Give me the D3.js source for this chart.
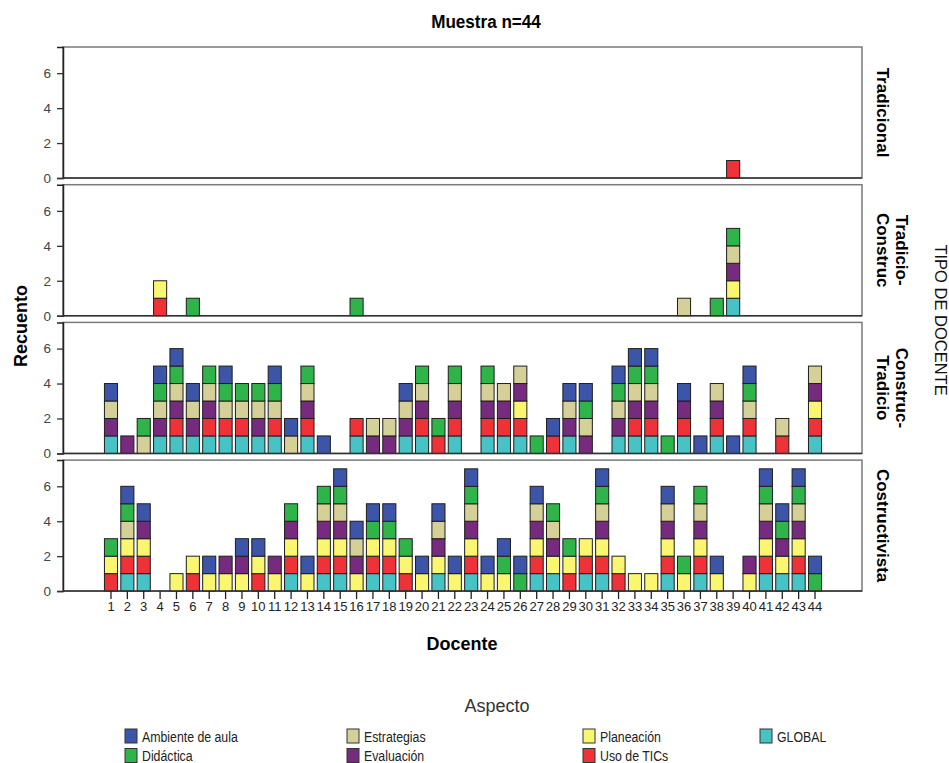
<!DOCTYPE html>
<html>
<head>
<meta charset="utf-8">
<script src="https://cdn.jsdelivr.net/npm/d3@7"></script>
<style>
  body { margin: 0; background: #fff; }
  text { font-family: "Liberation Sans", Arial, sans-serif; }
</style>
</head>
<body>
<svg id="drawing_region"></svg>
<script>
// docentes 1..44 on the x axis
const docentes = d3.range(1, 45).map(String);
const tickLabels = [0, 2, 4, 6];

// stack order from the bottom up
const aspectos = ["GLOBAL", "Uso de TICs", "Planeación", "Evaluación", "Estrategias", "Didáctica", "Ambiente de aula"];
const codigos = {G: "GLOBAL", T: "Uso de TICs", P: "Planeación", V: "Evaluación", E: "Estrategias", D: "Didáctica", A: "Ambiente de aula"};
const colores = ["#47c3c6", "#ee3237", "#fbf66f", "#762b7f", "#d5cf98", "#2fb44a", "#3c55a9"];
const legendOrder = ["Ambiente de aula", "Estrategias", "Planeación", "GLOBAL", "Didáctica", "Evaluación", "Uso de TICs"];

const tipos = ["Tradicional", "Tradicio-Construc", "Construc-Tradicio", "Costructivista"];
const tipoLines = [["Tradicional"], ["Tradicio-", "Construc"], ["Construc-", "Tradicio"], ["Costructivista"]];

// aspects counted (1 each) per docente, one string per docente, per tipo
const tradicional = ["","","","","","","","","","","","","","","","","","","","","","","","","","","","","","","","","","","","","","","T","","","","",""];
const tradicioConstruc = ["","","","TP","","D","","","","","","","","","","D","","","","","","","","","","","","","","","","","","","","E","","D","GPVED","","","","",""];
const construcTradicio = ["GVEA","V","ED","GVEDA","GTVEDA","GVEA","GTVED","GTEDA","GTED","GVED","GTEDA","EA","GTVED","A","","GT","VE","VE","GVEA","GTVED","TD","GTVED","","GTVED","GTVE","GTPVE","D","TA","GVEA","VEDA","","GVEDA","GTVEDA","GTVEDA","D","GTVA","A","GTVE","A","GTEDA","","TE","","GTPVE"];
const costructivista = ["TPD","GTPEDA","GTPVA","","P","TP","PA","PV","PVA","TPA","PV","GTPVD","PA","GTPVED","GTPVEDA","PVEA","GTPDA","GTPDA","TPD","PA","GPVEA","PA","GTPVEDA","PA","PDA","DA","GTPVEA","GPVED","TPD","GTP","GTPVEDA","TP","P","P","GTPVEA","PD","GTPVED","PA","","PV","GTPVEDA","GPVDA","GTPVEDA","DA"];
const paneles = [tradicional, tradicioConstruc, construcTradicio, costructivista];

const W = 949, H = 763;
const left = 63, right = 862;
const panelTop = 47, panelH = 131, panelStep = 137.7;

const svg = d3.select('#drawing_region').attr('width', W).attr('height', H);

const x = d3.scaleBand().domain(docentes).range([102.8, 823.2]).paddingInner(0.2).paddingOuter(0.1);
const y = d3.scaleLinear().domain([0, 7.5]).range([panelH, 0]);
const color = d3.scaleOrdinal().domain(aspectos).range(colores);
const stack = d3.stack().keys(aspectos);

// narrow-looking title (squeezed horizontally)
svg.append('text')
  .attr('transform', 'translate(486,28) scale(0.9,1)')
  .attr('text-anchor', 'middle')
  .attr('font-size', '19px').attr('font-weight', 'bold')
  .text('Muestra n=44');

paneles.forEach((panel, i) => {
  const top = panelTop + i * panelStep;
  const g = svg.append('g').attr('transform', `translate(0,${top})`);

  const rows = panel.map((s, j) => {
    const r = {docente: docentes[j]};
    aspectos.forEach(a => r[a] = 0);
    s.split('').forEach(c => r[codigos[c]] += 1);
    return r;
  });

  g.append('rect')
    .attr('x', left).attr('y', 0)
    .attr('width', right - left).attr('height', panelH)
    .attr('fill', 'none').attr('stroke', '#7a7a7a').attr('stroke-width', 1.5);

  const series = g.selectAll('.serie')
    .data(stack(rows))
    .enter()
    .append('g')
    .attr('fill', d => color(d.key));

  series.selectAll('rect')
    .data(d => d.filter(v => v[1] > v[0]))
    .enter()
    .append('rect')
    .attr('x', d => x(d.data.docente))
    .attr('y', d => y(d[1]))
    .attr('width', x.bandwidth())
    .attr('height', d => y(d[0]) - y(d[1]))
    .attr('stroke', '#1e1e1e').attr('stroke-width', 1);

  const ya = g.append('g')
    .attr('transform', `translate(${left},0)`)
    .call(d3.axisLeft(y).tickValues(tickLabels).tickSize(6).tickPadding(6));
  ya.select('.domain').attr('stroke', '#222').attr('stroke-width', 1.5);
  ya.selectAll('.tick line').attr('stroke', '#333').attr('stroke-width', 1.3);
  ya.selectAll('.tick text').attr('font-size', '13.5px').attr('fill', '#444')
    .attr('font-family', '"Liberation Sans", Arial, sans-serif');

  g.append('line')
    .attr('x1', left).attr('x2', right)
    .attr('y1', panelH).attr('y2', panelH)
    .attr('stroke', '#333').attr('stroke-width', 1.5);

  // facet label on the right, rotated
  const cy = panelH / 2;
  const lab = g.append('text')
    .attr('transform', `translate(877,${cy}) rotate(90)`)
    .attr('text-anchor', 'middle')
    .attr('font-size', '17px').attr('font-weight', 'bold');
  const lines = tipoLines[i];
  lines.forEach((t, k) => {
    lab.append('tspan')
      .attr('x', 0)
      .attr('y', -(lines.length - 1 - k) * 19)
      .text(t);
  });

  if (i === paneles.length - 1) {
    const xa = g.append('g')
      .attr('transform', `translate(0,${panelH})`)
      .call(d3.axisBottom(x).tickSize(8).tickPadding(3));
    xa.select('.domain').remove();
    xa.selectAll('.tick line').attr('stroke', '#222').attr('stroke-width', 1.3);
    xa.selectAll('.tick text').attr('font-size', '13px').attr('fill', '#222')
      .attr('font-family', '"Liberation Sans", Arial, sans-serif');
  }
});

svg.append('text')
  .attr('transform', 'translate(27,326) rotate(-90)')
  .attr('text-anchor', 'middle')
  .attr('font-size', '18px').attr('font-weight', 'bold')
  .text('Recuento');

svg.append('text')
  .attr('x', 462).attr('y', 650)
  .attr('text-anchor', 'middle')
  .attr('font-size', '18px').attr('font-weight', 'bold')
  .text('Docente');

svg.append('text')
  .attr('transform', 'translate(935,320) rotate(90)')
  .attr('text-anchor', 'middle')
  .attr('font-size', '16.5px').attr('fill', '#111')
  .text('TIPO DE DOCENTE');

// legend
svg.append('text')
  .attr('x', 497).attr('y', 712)
  .attr('text-anchor', 'middle')
  .attr('font-size', '18px').attr('fill', '#333')
  .text('Aspecto');

const colX = [125, 347, 583, 760];
const legend = svg.selectAll('.leg')
  .data(legendOrder)
  .enter()
  .append('g')
  .attr('transform', (d, k) => `translate(${colX[k % 4]},${729 + Math.floor(k / 4) * 19.5})`);
legend.append('rect')
  .attr('width', 12).attr('height', 14)
  .attr('fill', d => color(d)).attr('stroke', '#333').attr('stroke-width', 1);
legend.append('text')
  .attr('transform', 'translate(17,12.5) scale(0.85,1)')
  .attr('font-size', '14.5px').attr('fill', '#222')
  .text(d => d);
</script>
</body>
</html>
